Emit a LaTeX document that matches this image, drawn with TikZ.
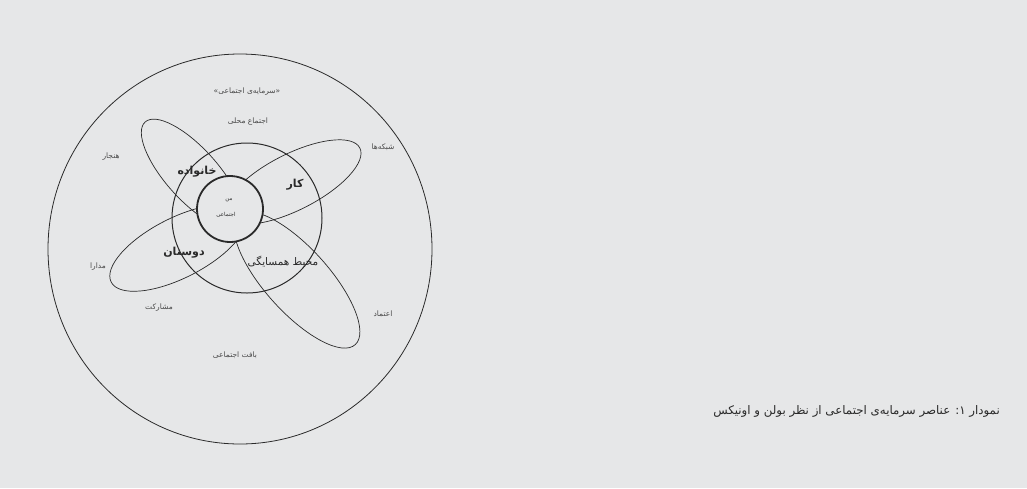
\documentclass[tikz,border=0pt]{standalone}
\usepackage{fontspec}
\TeXXeTstate=1
\newfontfamily\fafont[Script=Arabic]{DejaVu Sans}
\definecolor{pagegray}{HTML}{E6E7E8}
\definecolor{inkgray}{HTML}{2A2A2A}

\begin{document}
\begin{tikzpicture}[x=1pt,y=-1pt, every node/.style={font=\fafont, inner sep=0pt, text=inkgray},
  ring/.style={draw=inkgray, line width=0.8pt},
  petal/.style={draw=inkgray, line width=0.7pt},
  tiny/.style={font=\fafont\fontsize{7.5}{8}\selectfont, text=inkgray!85},
  petallabel/.style={font=\fafont\bfseries\fontsize{11}{12}\selectfont}]
  \fill[pagegray] (0,0) rectangle (1027,488);
  \useasboundingbox (0,0) rectangle (1027,488);

  % circles
  \draw[ring] (240,249) ellipse (192 and 195);
  \draw[ring, line width=1pt] (247,218) circle (75);

  % petals, inner ends hidden under the centre circle
  \draw[petal, shift={(192,174)}, rotate=-48] (0,0) ellipse (70 and 26);
  \draw[petal, shift={(293,182)}, rotate=27] (0,0) ellipse (75 and 28);
  \draw[petal, shift={(178,248)}, rotate=27] (0,0) ellipse (75 and 30);
  \draw[petal, shift={(297,280)}, rotate=-48] (0,0) ellipse (87 and 32);

  \draw[ring, line width=1.8pt, fill=pagegray] (230,209) circle (33);

  \node[font=\fafont\fontsize{5.5}{6}\selectfont] (self) at (229,200) {من};
  \node[font=\fafont\fontsize{5.5}{6}\selectfont] (selfb) at (226,215) {اجتماعی};

  \node[petallabel] (family) at (197,172) {خانواده};
  \node[petallabel] (work) at (295,185) {کار};
  \node[petallabel] (friends) at (184,253) {دوستان};
  \node[font=\fafont\fontsize{10.5}{11}\selectfont] (hood) at (283,262) {\beginR محیط همسایگی\endR};

  \node[tiny] (capital) at (247,92) {\beginR«سرمایه‌ی اجتماعی»\endR};
  \node[tiny] (local) at (248,122) {\beginR اجتماع محلی\endR};
  \node[tiny] (networks) at (383,147) {شبکه‌ها};
  \node[tiny] (norms) at (111,157) {هنجار};
  \node[tiny] (tolerance) at (98,267) {مدارا};
  \node[tiny] (share) at (159,308) {مشارکت};
  \node[tiny] (trust) at (383,314) {اعتماد};
  \node[tiny] (context) at (235,355) {\beginR بافت اجتماعی\endR};

  \node[anchor=base east, font=\fafont\fontsize{11.8}{13}\selectfont] (caption) at (1000,414)
    {\beginR نمودار ۱: عناصر سرمایه‌ی اجتماعی از نظر بولن و اونیکس\endR};
\end{tikzpicture}
\end{document}
